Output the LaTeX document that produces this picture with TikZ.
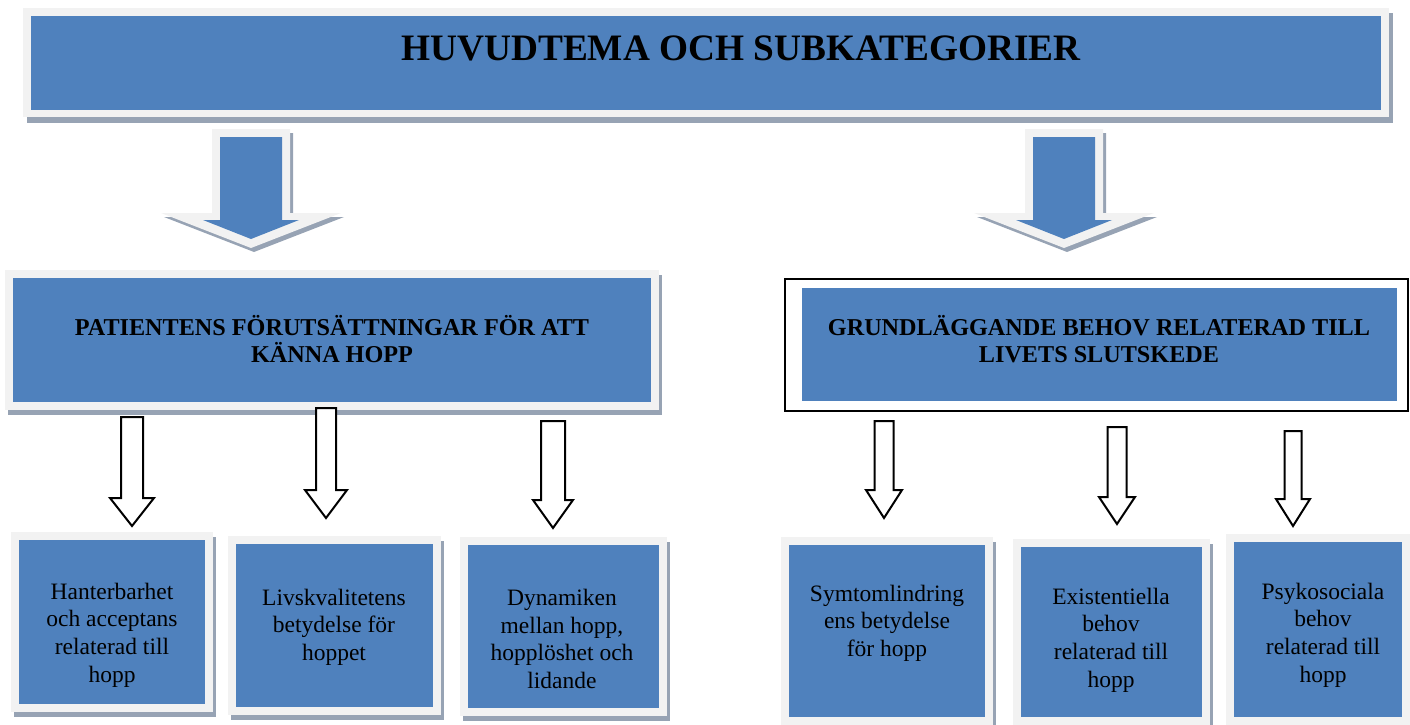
\documentclass[tikz,border=0pt]{standalone}
\usepackage{fontspec}
\setmainfont{Liberation Serif}
\definecolor{boxblue}{HTML}{4F81BD}
\definecolor{boxrim}{HTML}{F2F2F2}
\definecolor{boxshade}{HTML}{97A3B4}
\tikzset{
  titletext/.style={font=\fontsize{37.3}{44}\selectfont\bfseries},
  headtext/.style={font=\fontsize{24.2}{27}\selectfont\bfseries, align=center, inner sep=0pt},
  bodytext/.style={font=\fontsize{23.5}{27.6}\selectfont, align=center, inner sep=0pt},
  hollowarrow/.style={draw=black, fill=white, line width=2pt, miter limit=10},
}
\begin{document}
\begin{tikzpicture}[x=1pt,y=-1pt]
  \useasboundingbox (0,0) rectangle (1410,725);
  % main theme
  \fill[boxshade] (27,13) rectangle (1393,123);
  \fill[boxrim] (23,8) rectangle (1389,117);
  \fill[boxblue] (31,16) rectangle (1381,110);
  \node[titletext] (title) at (741,48) {HUVUDTEMA OCH SUBKATEGORIER};
  % big arrows down to the two categories
  \foreach \c in {251,1064} {
    \fill[boxshade] (\c-36,133) -- (\c+42,133) -- (\c+42,217) -- (\c+93,217) -- (\c+3,252) -- (\c-87,217) -- (\c-36,217) -- cycle;
    \fill[boxrim] (\c-39,129) -- (\c+39,129) -- (\c+39,213) -- (\c+90,213) -- (\c,248) -- (\c-90,213) -- (\c-39,213) -- cycle;
    \fill[boxblue] (\c-31,137) -- (\c+31,137) -- (\c+31,220) -- (\c+48,220) -- (\c,239) -- (\c-48,220) -- (\c-31,220) -- cycle;
  }
  % categories
  \fill[boxshade] (8,275) rectangle (662,415);
  \fill[boxrim] (5,270) rectangle (659,410);
  \fill[boxblue] (13,278) rectangle (651,402);
  \node[headtext] (patient) at (332,339) {PATIENTENS FÖRUTSÄTTNINGAR FÖR ATT\\KÄNNA HOPP};
  \draw[line width=2.5pt] (785,279) rectangle (1408,411);
  \fill[boxblue] (802,288) rectangle (1397,401);
  \node[headtext] (behov) at (1099,339) {GRUNDLÄGGANDE BEHOV RELATERAD TILL\\LIVETS SLUTSKEDE};
  % hollow arrows
  \foreach \x/\t/\w/\b/\s/\h in {132/417/498/526/11/22, 326/408/490/518/10/21, 553/421/500/528/12/20,
      884/421/490/518/9.5/18, 1117/427/497/524/9.5/18, 1293/431/499/526/8.5/17} {
    \draw[hollowarrow] (\x-\s,\t) -- (\x+\s,\t) -- (\x+\s,\w) -- (\x+\h,\w) -- (\x,\b) -- (\x-\h,\w) -- (\x-\s,\w) -- cycle;
  }
  % subcategories
  \foreach \n/\xa/\ya/\xb/\yb/\tx/\ty/\txt in {
      hant/11/532/213/712/112/635/{Hanterbarhet\\och acceptans\\relaterad till\\hopp},
      livs/228/536/441/715/334/627/{Livskvalitetens\\betydelse för\\hoppet},
      dyn/460/537/667/716/562/639/{Dynamiken\\mellan hopp,\\hopplöshet och\\lidande},
      symt/781/537/993/725/887/623/{Symtomlindring\\ens betydelse\\för hopp},
      exist/1013/539/1210/725/1111/640/{Existentiella\\behov\\relaterad till\\hopp},
      psyko/1226/534/1410/725/1323/635/{Psykosociala\\behov\\relaterad till\\hopp}} {
    \fill[boxshade] (\xa+3,\ya+5) rectangle (\xb+3,\yb+5);
    \fill[boxrim] (\xa,\ya) rectangle (\xb,\yb);
    \fill[boxblue] (\xa+8,\ya+8) rectangle (\xb-8,\yb-8);
    \node[bodytext] (\n) at (\tx,\ty) {\txt};
  }
\end{tikzpicture}
\end{document}
